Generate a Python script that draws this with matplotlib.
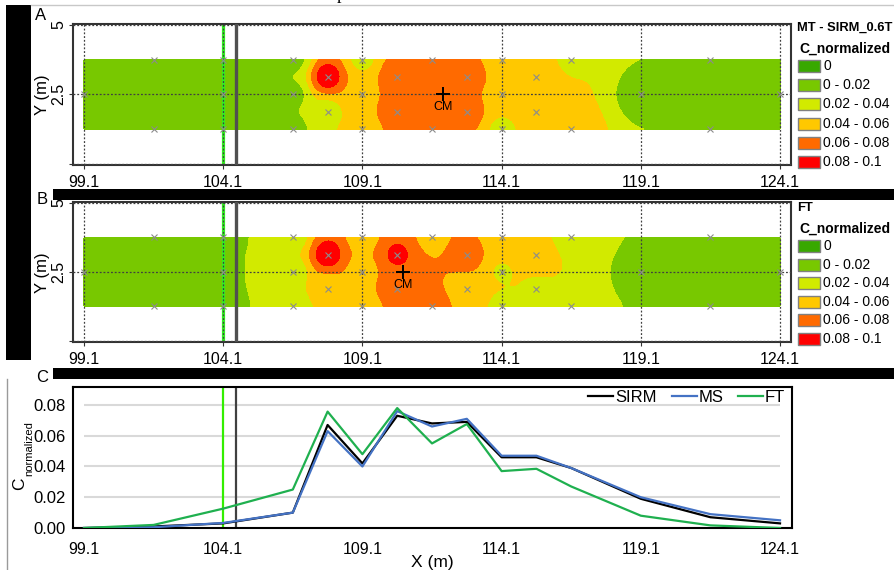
import numpy as np
import matplotlib
matplotlib.use("Agg")
import matplotlib.pyplot as plt
from matplotlib.patches import Rectangle
from matplotlib.lines import Line2D

plt.rcParams["font.family"] = ["Liberation Sans", "DejaVu Sans"]

# profile stations (X, m) and normalized concentrations (panel C)
sta_x = [99.1, 101.6, 104.1, 106.6, 107.85, 109.1, 110.35, 111.6, 112.85,
         114.1, 115.35, 116.6, 119.1, 121.6, 124.1]
sirm = [0.000, 0.001, 0.003, 0.010, 0.067, 0.042, 0.073, 0.068, 0.069,
        0.046, 0.046, 0.039, 0.019, 0.007, 0.003]
ms = [0.000, 0.0005, 0.0033, 0.010, 0.063, 0.040, 0.076, 0.066, 0.071,
      0.047, 0.047, 0.039, 0.020, 0.009, 0.005]
ft = [0.000, 0.002, 0.0126, 0.025, 0.0757, 0.048, 0.078, 0.055, 0.0676,
      0.037, 0.0385, 0.027, 0.008, 0.0017, 0.000]

# sampling points of the maps and their values
pt_x = [99.1, 101.6, 101.6, 104.1, 104.1, 104.1, 106.6, 106.6, 106.6,
        107.85, 107.85, 109.1, 109.1, 109.1, 110.35, 110.35, 111.6, 111.6,
        112.85, 112.85, 114.1, 114.1, 114.1, 115.35, 115.35, 116.6, 116.6,
        119.1, 121.6, 121.6, 124.1]
pt_y = [2.5, 3.75, 1.25, 3.75, 2.5, 1.25, 3.75, 2.5, 1.25,
        3.125, 1.875, 3.75, 2.5, 1.25, 3.125, 1.875, 3.75, 1.25,
        3.125, 1.875, 3.75, 2.5, 1.25, 3.125, 1.875, 3.75, 1.25,
        2.5, 3.75, 1.25, 2.5]
sirm_pt = [0.001, 0.002, 0.002, 0.006, 0.006, 0.006, 0.015, 0.015, 0.015,
           0.088, 0.034, 0.036, 0.052, 0.048, 0.074, 0.074, 0.072, 0.072,
           0.072, 0.070, 0.050, 0.048, 0.036, 0.054, 0.052, 0.037, 0.050,
           0.013, 0.019, 0.019, 0.011]
ft_pt = [0.001, 0.004, 0.004, 0.014, 0.018, 0.013, 0.031, 0.031, 0.029,
         0.088, 0.050, 0.052, 0.052, 0.048, 0.082, 0.074, 0.054, 0.066,
         0.071, 0.052, 0.047, 0.039, 0.037, 0.050, 0.038, 0.032, 0.030,
         0.011, 0.006, 0.006, 0.002]

x_ticks = [99.1, 104.1, 109.1, 114.1, 119.1, 124.1]
class_labels = ["0", "0 - 0.02", "0.02 - 0.04", "0.04 - 0.06", "0.06 - 0.08", "0.08 - 0.1"]
class_colors = ["#38a800", "#78c800", "#d2ea00", "#ffc800", "#ff6a00", "#ff0000"]
levels = [0, 0.02, 0.04, 0.06, 0.08, 0.1]

W, H = 894, 570
fig = plt.figure(figsize=(W / 100, H / 100), dpi=100)


def fx(x):
    return x / W


def fy(y):
    return 1 - y / H


def add_ax(l, t, r, b):
    return fig.add_axes([fx(l), fy(b), (r - l) / W, (b - t) / H])


def idw(px, py, pv, gx, gy, p=3, k=12):
    # inverse distance weighting using the k nearest samples
    px, py, pv = np.asarray(px), np.asarray(py), np.asarray(pv)
    d2 = (gx[..., None] - px) ** 2 + (gy[..., None] - py) ** 2
    idx = np.argsort(d2, axis=-1)[..., :k]
    d2k = np.take_along_axis(d2, idx, axis=-1)
    w = 1 / np.maximum(d2k, 1e-12) ** (p / 2)
    return (w * pv[idx]).sum(-1) / w.sum(-1)


def draw_map(ax, vals, cm_x, ytop, title, row0, dy):
    gx, gy = np.meshgrid(np.linspace(99.1, 124.1, 600), np.linspace(1.25, 3.75, 120))
    z = idw(pt_x, pt_y, vals, gx, gy)
    ax.contourf(gx, gy, z, levels=levels, colors=class_colors[1:], zorder=1)
    ax.plot(pt_x, pt_y, "x", color="#8c8c8c", ms=5, mew=0.8, zorder=5)
    ax.axvline(104.1, color="#33ee22", lw=2.3, zorder=2.5)
    for xt in x_ticks:
        ax.axvline(xt, color="#404040", lw=0.9, ls=(0, (1.5, 1.5)), zorder=3)
    for yt in [0, 2.5, 5]:
        ax.axhline(yt, color="#404040", lw=0.9, ls=(0, (1.5, 1.5)), zorder=3)
    ax.axvline(104.57, color="#505050", lw=2.4, zorder=4)
    ax.plot(cm_x, 2.5, "+", color="black", ms=10, mew=1.4, zorder=6)
    ax.text(cm_x, 2.25, "CM", ha="center", va="top", fontsize=9, zorder=6)
    ax.set_xlim(98.705, 124.495)
    ax.set_ylim(-0.04, 5.03)
    ax.set_xticks(x_ticks)
    ax.set_xticklabels([str(t) for t in x_ticks])
    ax.set_yticks([0, 2.5, 5])
    ax.set_yticklabels(["", "2.5", "5"], rotation=90, va="center")
    ax.tick_params(axis="x", length=3, pad=4, labelsize=11.5, color="#333333")
    ax.tick_params(axis="y", length=3, pad=2, labelsize=11.5, color="#333333")
    for s in ax.spines.values():
        s.set_color("#333333")
        s.set_linewidth(1.5)
    yc = (ytop + ytop + 141) / 2
    fig.text(fx(42), fy(yc), "Y (m)", rotation=90, ha="center", va="center", fontsize=12)
    # class legend
    fig.text(fx(797), fy(row0 - 38), title, ha="left", va="center", fontsize=9.3, weight="bold")
    fig.text(fx(799), fy(row0 - 17), "C_normalized", ha="left", va="center", fontsize=10, weight="bold")
    for i, (lab, col) in enumerate(zip(class_labels, class_colors)):
        yy = row0 + i * dy
        fig.add_artist(Rectangle((fx(798), fy(yy + 6)), 22 / W, 12 / H,
                                 facecolor=col, edgecolor="#808080", lw=1))
        fig.text(fx(823), fy(yy), lab, ha="left", va="center", fontsize=10)


axA = add_ax(73, 24, 791, 165)
draw_map(axA, sirm_pt, 112.0, 24, "MT - SIRM_0.6T", 66, 19.2)
axB = add_ax(73, 202, 791, 342)
draw_map(axB, ft_pt, 110.55, 202, "FT", 246, 18.6)

# panel C: profiles
axC = add_ax(73, 387, 792, 528)
axC.hlines([0.02, 0.04, 0.06, 0.08], 99.1, 124.1, color="#d9d9d9", lw=1.5, zorder=1)
axC.axvline(104.1, color="#33ee00", lw=1.6, zorder=2)
axC.axvline(104.57, color="#404040", lw=1.6, zorder=2)
axC.plot(sta_x, sirm, color="black", lw=1.6, label="SIRM", zorder=3)
axC.plot(sta_x, ms, color="#4472c4", lw=1.6, label="MS", zorder=3)
axC.plot(sta_x, ft, color="#1fb04f", lw=1.6, label="FT", zorder=3)
axC.set_xlim(98.705, 124.53)
axC.set_ylim(0, 0.0917)
axC.set_xticks(x_ticks)
axC.set_xticklabels([str(t) for t in x_ticks])
axC.set_yticks([0, 0.02, 0.04, 0.06, 0.08])
axC.set_yticklabels(["0.00", "0.02", "0.04", "0.06", "0.08"])
axC.tick_params(axis="x", length=0, pad=10, labelsize=11.5)
axC.tick_params(axis="y", length=0, pad=5, labelsize=12)
for s in axC.spines.values():
    s.set_color("black")
    s.set_linewidth(1.5)
axC.legend(loc="center right", bbox_to_anchor=(fx(785), fy(397)), bbox_transform=fig.transFigure,
           ncol=3, frameon=False, fontsize=12, handlelength=1.5, handletextpad=0.1,
           columnspacing=0.9, borderpad=0, borderaxespad=0)
fig.text(fx(432), fy(562), "X (m)", ha="center", va="center", fontsize=12.5)
fig.text(fx(20), fy(484), "C", rotation=90, ha="center", va="center", fontsize=12.5)
fig.text(fx(29), fy(449), "normalized", rotation=90, ha="center", va="center", fontsize=8)

# panel letters
fig.text(fx(41), fy(15), "A", ha="center", va="center", fontsize=12)
fig.text(fx(42), fy(200), "B", ha="center", va="center", fontsize=12)
fig.text(fx(42), fy(378), "C", ha="center", va="center", fontsize=12)

# page decorations around the panels
fig.add_artist(Rectangle((fx(6), fy(360)), 25 / W, 355 / H, facecolor="black", edgecolor="none"))
fig.add_artist(Rectangle((fx(53), fy(200)), (W - 53) / W, 11 / H, facecolor="black", edgecolor="none"))
fig.add_artist(Rectangle((fx(53), fy(379)), (W - 53) / W, 11 / H, facecolor="black", edgecolor="none"))
fig.add_artist(Line2D([fx(31), 1], [fy(5), fy(5)], color="#c8c8c8", lw=1))
fig.add_artist(Line2D([fx(7), fx(7)], [fy(379), 0], color="#9a9a9a", lw=1))
fig.text(fx(341), fy(-1), "p", ha="center", va="baseline", fontsize=13, family="Liberation Serif")

fig.savefig("out.png", dpi=100)
